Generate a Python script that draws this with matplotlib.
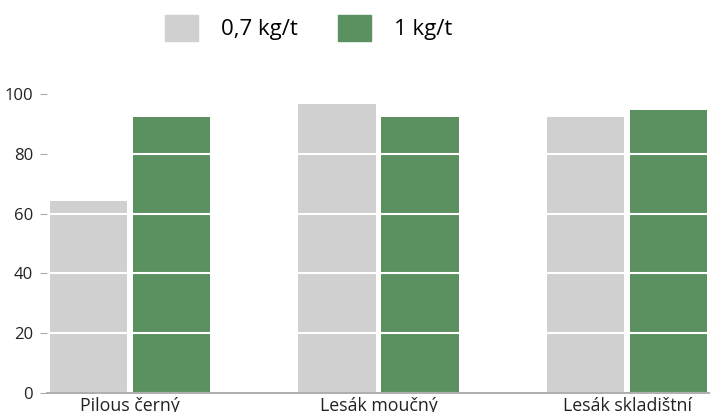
import matplotlib.pyplot as plt
import numpy as np
from matplotlib.patches import Patch

# Data
categories = ['Pilous černý', 'Lesák moučný', 'Lesák skladištní']
series_names = ['0,7 kg/t', '1 kg/t']
dose_07 = [64.2, 96.7, 92.3]
dose_10 = [92.3, 92.3, 94.6]
colors = ['#d0d0d0', '#5b9160']

plt.rcParams['font.family'] = ['Open Sans', 'DejaVu Sans']

fig = plt.figure(figsize=(7.1, 4.12), dpi=100)
ax = fig.add_axes([47 / 710, 1 - 393 / 412, (710 - 47) / 710, (393 - 94) / 412])

x = np.arange(len(categories))
width = 0.31
offset = 0.167
ax.bar(x - offset, dose_07, width, color=colors[0], zorder=1)
ax.bar(x + offset, dose_10, width, color=colors[1], zorder=1)

ax.set_xlim(-0.334, 2.334)
ax.set_ylim(0, 100)
ax.set_yticks([0, 20, 40, 60, 80, 100])
ax.set_xticks(x)
ax.set_xticklabels(categories, fontsize=12.8, color='#222222')

# white grid lines over the bars
ax.grid(axis='y', color='white', linewidth=1.5, zorder=2)
ax.set_axisbelow(False)

for s in ['top', 'right', 'left']:
    ax.spines[s].set_visible(False)
ax.spines['bottom'].set_color('#a0a0a0')
ax.spines['bottom'].set_linewidth(1.2)
ax.spines['bottom'].set_zorder(3)

ax.tick_params(axis='y', length=5, color='#aaaaaa', labelsize=12, labelcolor='#222222', pad=5)
ax.tick_params(axis='x', length=0, pad=3)

handles = [Patch(color=c) for c in colors]
fig.legend(handles, series_names, loc='center', bbox_to_anchor=(308.5 / 710, 1 - 28 / 412),
           ncol=2, frameon=False, fontsize=16, handlelength=1.49, handleheight=1.45,
           handletextpad=1.04, columnspacing=1.8)

fig.savefig('out.png', dpi=100)
